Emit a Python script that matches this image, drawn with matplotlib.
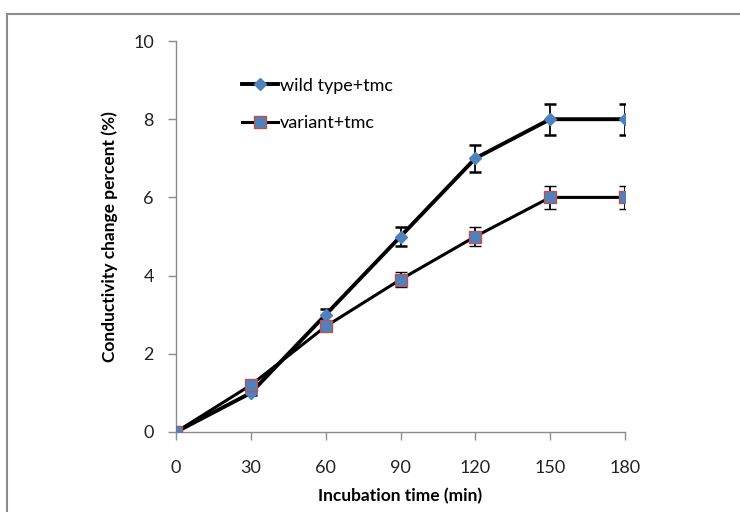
"""Membrane conductivity change over incubation time, wild type vs variant."""

import matplotlib

matplotlib.use("Agg")

import matplotlib.pyplot as plt
from matplotlib.lines import Line2D
from matplotlib.patches import Rectangle

time_min = [0, 30, 60, 90, 120, 150, 180]
wild_type = [0.0, 1.0, 3.0, 5.0, 7.0, 8.0, 8.0]
wild_type_err = [0.0, 0.05, 0.15, 0.25, 0.35, 0.4, 0.4]
variant = [0.0, 1.2, 2.7, 3.9, 5.0, 6.0, 6.0]
variant_err = [0.0, 0.05, 0.1, 0.2, 0.25, 0.3, 0.3]

x_ticks = [0, 30, 60, 90, 120, 150, 180]
y_ticks = [0, 2, 4, 6, 8, 10]

BLUE = "#4F81BD"
RED = "#C0504D"
GRAY = "#8C8C8C"

plt.rcParams["font.family"] = ["Lato", "DejaVu Sans"]

fig = plt.figure(figsize=(7.4, 5.12), dpi=100)
fig.patches.append(Rectangle((7 / 740, -0.1), 1.2, 1 - 14 / 512 + 0.1,
                             transform=fig.transFigure, fill=False,
                             edgecolor=GRAY, lw=1.5))
ax = fig.add_axes([176 / 740, 1 - 432 / 512, 449 / 740, 391 / 512])

wt_style = dict(color="black", lw=2.8, marker="D", markersize=6,
                markerfacecolor=BLUE, markeredgecolor=BLUE)
var_style = dict(color="black", lw=2.2, marker="s", markersize=8,
                 markerfacecolor=BLUE, markeredgecolor=RED, markeredgewidth=1.0)

ax.errorbar(time_min, wild_type, yerr=wild_type_err, ecolor="black",
            elinewidth=1.3, capsize=4, capthick=1.8, zorder=3, **wt_style)
ax.errorbar(time_min, variant, yerr=variant_err, ecolor="black",
            elinewidth=1.3, capsize=4, capthick=1.8, zorder=3, **var_style)

ax.set_xlim(0, 180)
ax.set_ylim(0, 10)
ax.set_xticks(x_ticks)
ax.set_yticks(y_ticks)
for side in ("top", "right"):
    ax.spines[side].set_visible(False)
for side in ("left", "bottom"):
    ax.spines[side].set_color(GRAY)
    ax.spines[side].set_linewidth(1.0)
ax.tick_params(direction="out", length=6, width=1.0, color=GRAY,
               labelsize=13, labelcolor="#222222")
ax.tick_params(axis="x", pad=14)
ax.tick_params(axis="y", pad=10)
for lbl in ax.get_xticklabels() + ax.get_yticklabels():
    lbl.set_clip_on(False)

ax.set_xlabel("Incubation time (min)", fontsize=12.5, fontweight="bold", labelpad=9)
ax.set_ylabel("Conductivity change percent (%)", fontsize=12.5, fontweight="bold", labelpad=11)

handles = [Line2D([], [], **wt_style), Line2D([], [], **var_style)]
ax.legend(handles, ["wild type+tmc", "variant+tmc"], loc="upper left",
          bbox_to_anchor=(0.13, 0.925), frameon=False, fontsize=13,
          handlelength=2.0, handletextpad=0.1, labelspacing=1.2, borderaxespad=0)

fig.savefig("out.png", dpi=100)
